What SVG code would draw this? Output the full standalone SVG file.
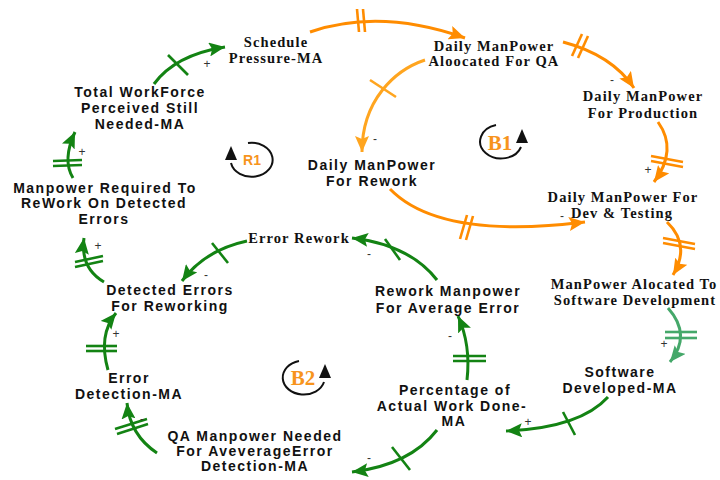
<svg xmlns="http://www.w3.org/2000/svg" width="720" height="480" viewBox="0 0 720 480">
  <defs>
    <style>
      .serif { font-family: "Liberation Serif", "Times New Roman", serif; font-weight: bold; font-size: 14.5px; letter-spacing: 1.1px; fill: #111; text-anchor: middle; }
      .sans { font-family: "Liberation Sans", Arial, sans-serif; font-weight: bold; font-size: 14px; letter-spacing: 1.5px; fill: #111; text-anchor: middle; }
      .sign { font-family: "Liberation Sans", Arial, sans-serif; font-size: 12px; fill: #333; text-anchor: middle; }
      .loopname { fill: #f7941d; text-anchor: middle; font-weight: bold; }
      .lk { fill: none; stroke-width: 3; }
      .g { stroke: #138313; }
      .o { stroke: #ff8c00; }
      .lo { stroke: #ffa51f; }
      .sg { stroke: #45a86a; }
      .mk { stroke-width: 2.6; stroke-linecap: butt; }
      .loop { fill: none; stroke: #111; stroke-width: 2; }
      .loophead { fill: #111; }
    </style>
    <marker id="ah-g" markerUnits="userSpaceOnUse" markerWidth="18" markerHeight="14" refX="16" refY="7" orient="auto">
      <path d="M0,0 L16,7 L0,14 L3,7 z" fill="#138313"/>
    </marker>
    <marker id="ah-o" markerUnits="userSpaceOnUse" markerWidth="18" markerHeight="14" refX="16" refY="7" orient="auto">
      <path d="M0,0 L16,7 L0,14 L3,7 z" fill="#ff8c00"/>
    </marker>
    <marker id="ah-lo" markerUnits="userSpaceOnUse" markerWidth="18" markerHeight="14" refX="16" refY="7" orient="auto">
      <path d="M0,0 L16,7 L0,14 L3,7 z" fill="#ffa51f"/>
    </marker>
    <marker id="ah-sg" markerUnits="userSpaceOnUse" markerWidth="18" markerHeight="14" refX="16" refY="7" orient="auto">
      <path d="M0,0 L16,7 L0,14 L3,7 z" fill="#45a86a"/>
    </marker>
  </defs>

  <rect width="720" height="480" fill="#ffffff"/>

  <!-- Causal links -->
  <g id="connectors">
    <!-- Schedule Pressure -> Daily ManPower Aloocated For QA -->
    <path class="lk o" d="M310,32 Q380,8 465,38" marker-end="url(#ah-o)"/>
    <line class="o mk" x1="357" y1="9" x2="359" y2="32"/>
    <line class="o mk" x1="363" y1="9" x2="365" y2="32"/>
    <!-- QA allocation -> Production -->
    <path class="lk o" d="M563,42 Q612,55 634,88" marker-end="url(#ah-o)"/>
    <line class="o mk" x1="572" y1="56" x2="582" y2="34"/>
    <line class="o mk" x1="578" y1="58" x2="588" y2="36"/>
    <!-- Production -> Dev & Testing -->
    <path class="lk o" d="M658,122 Q678,150 654,182" marker-end="url(#ah-o)"/>
    <line class="o mk" x1="651" y1="156" x2="683" y2="162"/>
    <line class="o mk" x1="651" y1="161" x2="683" y2="167"/>
    <!-- QA allocation -> Rework -->
    <path class="lk lo" d="M425,60 C395,70 362,100 362,152" marker-end="url(#ah-lo)"/>
    <line class="lo mk" x1="370" y1="80" x2="396" y2="97"/>
    <!-- Rework -> Dev & Testing -->
    <path class="lk o" d="M390,189 C420,220 480,235 585,222" marker-end="url(#ah-o)"/>
    <line class="o mk" x1="460" y1="239" x2="467" y2="215"/>
    <line class="o mk" x1="466" y1="240" x2="473" y2="216"/>
    <!-- Dev & Testing -> Software Development allocation -->
    <path class="lk o" d="M667,222 Q691,245 673,275" marker-end="url(#ah-o)"/>
    <line class="o mk" x1="663" y1="238" x2="695" y2="244"/>
    <line class="o mk" x1="663" y1="243" x2="695" y2="249"/>
    <!-- Software Development allocation -> Software Developed -->
    <path class="lk sg" d="M668,308 Q692,335 670,362" marker-end="url(#ah-sg)"/>
    <line class="sg mk" x1="665" y1="332" x2="697" y2="332"/>
    <line class="sg mk" x1="665" y1="338" x2="697" y2="338"/>
    <!-- Software Developed -> Percentage of Actual Work Done -->
    <path class="lk g" d="M608,397 Q580,428 506,431" marker-end="url(#ah-g)"/>
    <line class="g mk" x1="563" y1="412" x2="575" y2="435"/>
    <!-- Percentage -> Rework Manpower -->
    <path class="lk g" d="M467,380 Q471,345 458,316" marker-end="url(#ah-g)"/>
    <line class="g mk" x1="453" y1="356" x2="486" y2="356"/>
    <line class="g mk" x1="453" y1="361" x2="486" y2="361"/>
    <!-- Rework Manpower -> Error Rework -->
    <path class="lk g" d="M437,280 Q410,245 352,238" marker-end="url(#ah-g)"/>
    <line class="g mk" x1="385" y1="239" x2="400" y2="260"/>
    <!-- Error Rework -> Detected Errors -->
    <path class="lk g" d="M247,241 Q205,250 182,281" marker-end="url(#ah-g)"/>
    <line class="g mk" x1="212" y1="243" x2="228" y2="263"/>
    <!-- Detected Errors -> Manpower Required To ReWork -->
    <path class="lk g" d="M104,282 Q80,268 84,238" marker-end="url(#ah-g)"/>
    <line class="g mk" x1="75" y1="262" x2="103" y2="256"/>
    <line class="g mk" x1="75" y1="267" x2="103" y2="261"/>
    <!-- Error Detection -> Detected Errors -->
    <path class="lk g" d="M108,370 Q98,335 116,313" marker-end="url(#ah-g)"/>
    <line class="g mk" x1="86" y1="346" x2="117" y2="346"/>
    <line class="g mk" x1="86" y1="351" x2="117" y2="351"/>
    <!-- QA Manpower Needed -> Error Detection -->
    <path class="lk g" d="M157,453 Q130,435 127,403" marker-end="url(#ah-g)"/>
    <line class="g mk" x1="115" y1="429" x2="147" y2="419"/>
    <line class="g mk" x1="117" y1="434" x2="148" y2="424"/>
    <!-- Percentage -> QA Manpower Needed -->
    <path class="lk g" d="M437,430 Q410,465 352,472" marker-end="url(#ah-g)"/>
    <line class="g mk" x1="392" y1="447" x2="410" y2="470"/>
    <!-- Manpower Required To ReWork -> Total WorkForce -->
    <path class="lk g" d="M73,178 Q62,160 75,132" marker-end="url(#ah-g)"/>
    <line class="g mk" x1="53" y1="161" x2="82" y2="160"/>
    <line class="g mk" x1="53" y1="166" x2="82" y2="165"/>
    <!-- Total WorkForce -> Schedule Pressure -->
    <path class="lk g" d="M154,84 Q175,55 225,47" marker-end="url(#ah-g)"/>
    <line class="g mk" x1="168" y1="55" x2="188" y2="75"/>

    <!-- polarity signs -->
    <text class="sign" x="612" y="84">-</text>
    <text class="sign" x="648" y="174">+</text>
    <text class="sign" x="375" y="143">-</text>
    <text class="sign" x="562" y="220">-</text>
    <text class="sign" x="664" y="348">+</text>
    <text class="sign" x="528" y="426">+</text>
    <text class="sign" x="450" y="340">-</text>
    <text class="sign" x="369" y="258">-</text>
    <text class="sign" x="206" y="279">-</text>
    <text class="sign" x="98" y="250">+</text>
    <text class="sign" x="116" y="338">+</text>
    <text class="sign" x="142" y="423">-</text>
    <text class="sign" x="369" y="462">-</text>
    <text class="sign" x="82" y="156">+</text>
    <text class="sign" x="207" y="68">+</text>
  </g>

  <!-- Variables -->
  <g id="schedule-pressure">
    <text class="serif" x="276" y="47">Schedule</text>
    <text class="serif" x="276" y="63">Pressure-MA</text>
  </g>
  <g id="qa-allocation">
    <text class="serif" x="494" y="51">Daily ManPower</text>
    <text class="serif" x="494" y="66">Aloocated For QA</text>
  </g>
  <g id="production">
    <text class="serif" x="643" y="101">Daily ManPower</text>
    <text class="serif" x="643" y="118">For Production</text>
  </g>
  <g id="dev-testing">
    <text class="serif" x="623" y="202">Daily ManPower For</text>
    <text class="serif" x="622" y="218">Dev &amp; Testing</text>
  </g>
  <g id="software-allocation">
    <text class="serif" x="634" y="289">ManPower Alocated To</text>
    <text class="serif" x="635" y="305">Software Development</text>
  </g>
  <g id="software-developed">
    <text class="sans" x="620" y="377">Software</text>
    <text class="sans" x="620" y="393">Developed-MA</text>
  </g>
  <g id="percentage-done">
    <text class="sans" x="455" y="395">Percentage of</text>
    <text class="sans" x="452" y="411">Actual Work Done-</text>
    <text class="sans" x="454" y="426">MA</text>
  </g>
  <g id="rework-manpower">
    <text class="sans" x="448" y="296">Rework Manpower</text>
    <text class="sans" x="448" y="313">For Average Error</text>
  </g>
  <g id="error-rework">
    <text class="serif" x="299" y="243">Error Rework</text>
  </g>
  <g id="detected-errors">
    <text class="sans" x="170" y="295">Detected Errors</text>
    <text class="sans" x="170" y="311">For Reworking</text>
  </g>
  <g id="error-detection">
    <text class="sans" x="129" y="383">Error</text>
    <text class="sans" x="129" y="399">Detection-MA</text>
  </g>
  <g id="qa-needed">
    <text class="sans" x="255" y="441">QA Manpower Needed</text>
    <text class="sans" x="255" y="456">For AveverageError</text>
    <text class="sans" x="255" y="471">Detection-MA</text>
  </g>
  <g id="manpower-required">
    <text class="sans" x="105" y="193">Manpower Required To</text>
    <text class="sans" x="104" y="208">ReWork On Detected</text>
    <text class="sans" x="104" y="224">Errors</text>
  </g>
  <g id="total-workforce">
    <text class="sans" x="140" y="97">Total WorkForce</text>
    <text class="sans" x="140" y="113">Perceived Still</text>
    <text class="sans" x="140" y="129">Needed-MA</text>
  </g>
  <g id="daily-rework">
    <text class="sans" x="372" y="170">Daily ManPower</text>
    <text class="sans" x="372" y="186">For Rework</text>
  </g>

  <!-- Loop markers -->
  <g id="loop-r1">
    <path class="loop" d="M248,143 A21,17 0 1 1 231,163"/>
    <path class="loophead" d="M231,146 L237,160 L225,160 z"/>
    <text class="loopname" x="252" y="165" style="font-family: 'Liberation Sans', Arial, sans-serif; font-size: 14px;">R1</text>
  </g>
  <g id="loop-b1">
    <path class="loop" d="M496,125 A21,17 0 1 0 521,147"/>
    <path class="loophead" d="M522,129 L528,143 L516,143 z"/>
    <text class="loopname" x="500" y="150" style="font-family: 'Liberation Serif', 'Times New Roman', serif; font-size: 21px;">B1</text>
  </g>
  <g id="loop-b2">
    <path class="loop" d="M299,361 A21,17 0 1 0 324,382"/>
    <path class="loophead" d="M325,364 L331,378 L319,378 z"/>
    <text class="loopname" x="303" y="385" style="font-family: 'Liberation Serif', 'Times New Roman', serif; font-size: 21px;">B2</text>
  </g>
</svg>
